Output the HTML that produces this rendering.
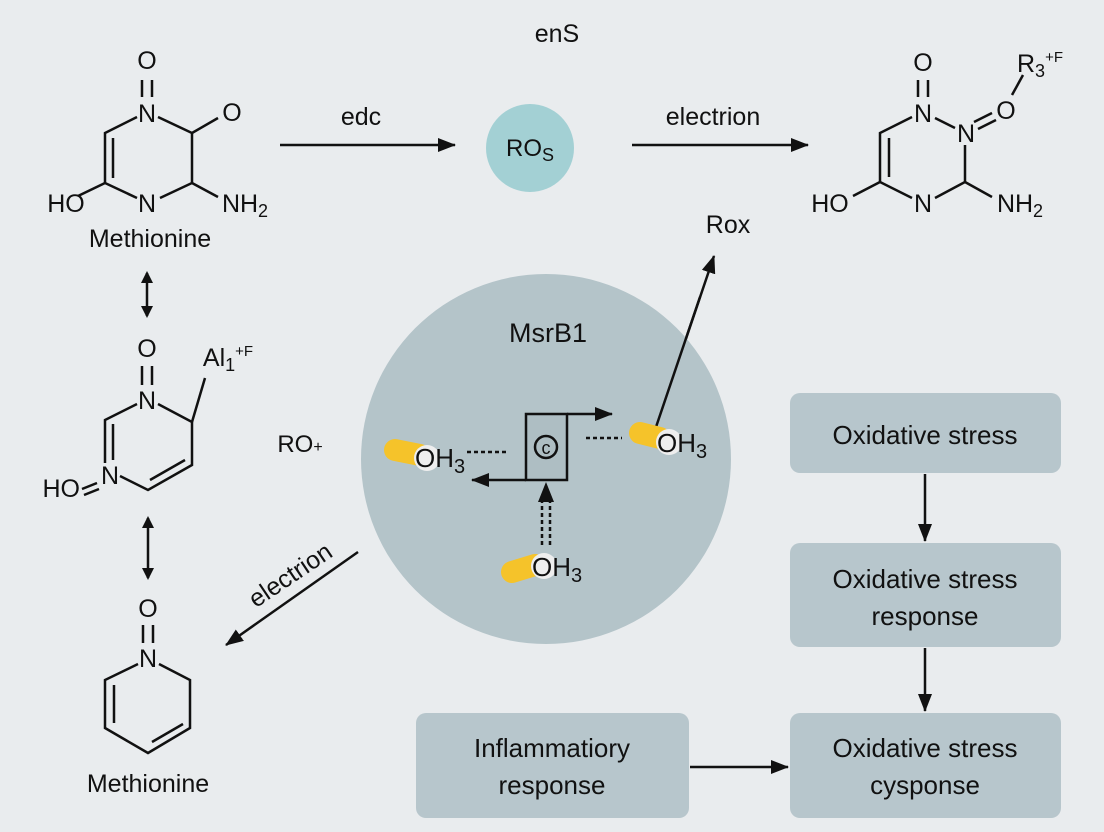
<!DOCTYPE html>
<html><head><meta charset="utf-8"><style>
html,body{margin:0;padding:0;background:#e9ecee}
svg{display:block}
text{font-family:"Liberation Sans",sans-serif;fill:#111}
</style></head><body>
<svg width="1104" height="832" viewBox="0 0 1104 832" xmlns="http://www.w3.org/2000/svg">
<defs>
<marker id="ah" markerWidth="12" markerHeight="12" refX="10" refY="6" orient="auto-start-reverse" markerUnits="userSpaceOnUse"><path d="M0,0 L12,6 L0,12 z" fill="#111"/></marker>
<marker id="ah2" markerWidth="18" markerHeight="14" refX="17" refY="7" orient="auto" markerUnits="userSpaceOnUse"><path d="M0,0 L18,7 L0,14 z" fill="#111"/></marker>
</defs>
<rect width="1104" height="832" fill="#e9ecee"/>
<g stroke="#111" stroke-width="2.5" fill="none">
<line x1="142" y1="80" x2="142" y2="97"/><line x1="152" y1="80" x2="152" y2="97"/>
<path d="M137,117 L105,133 L105,183 L137,198"/><line x1="113" y1="138" x2="113" y2="178"/>
<path d="M158,117 L192,133 L192,183 L160,198"/><line x1="192" y1="133" x2="218" y2="118"/>
<line x1="105" y1="183" x2="78" y2="196"/><line x1="192" y1="183" x2="218" y2="197"/>
<line x1="147" y1="273" x2="147" y2="316" marker-start="url(#ah)" marker-end="url(#ah)"/>
<line x1="148" y1="518" x2="148" y2="578" marker-start="url(#ah)" marker-end="url(#ah)"/>
<line x1="142" y1="366" x2="142" y2="385"/><line x1="152" y1="366" x2="152" y2="385"/>
<path d="M137,404 L105,420 L105,463"/><line x1="113" y1="424" x2="113" y2="460"/>
<path d="M158,404 L192,422 L192,465 L148,490 L120,476"/><line x1="150" y1="480" x2="185" y2="460"/>
<line x1="192" y1="422" x2="205" y2="378"/>
<line x1="82" y1="489" x2="97" y2="483"/><line x1="84" y1="495" x2="99" y2="489"/>
<line x1="143" y1="625" x2="143" y2="643"/><line x1="153" y1="625" x2="153" y2="643"/>
<path d="M138,664 L105,680 L105,728 L148,753 L190,728 L190,680 L159,664"/>
<line x1="114" y1="685" x2="114" y2="723"/><line x1="152" y1="742" x2="183" y2="724"/>
<line x1="918" y1="80" x2="918" y2="97"/><line x1="928" y1="80" x2="928" y2="97"/>
<path d="M912,117 L880,133 L880,182 L912,198"/><line x1="889" y1="138" x2="889" y2="177"/>
<line x1="935" y1="118" x2="955" y2="128"/>
<path d="M965,145 L965,182 L935,198"/><line x1="965" y1="182" x2="992" y2="197"/>
<line x1="880" y1="182" x2="853" y2="196"/>
<line x1="974" y1="122" x2="992" y2="113"/><line x1="978" y1="129" x2="996" y2="120"/>
<line x1="1012" y1="95" x2="1023" y2="75"/>
</g>
<g font-size="25" text-anchor="middle">
<text x="147" y="69">O</text><text x="147" y="122">N</text><text x="232" y="121">O</text>
<text x="66" y="212">HO</text><text x="147" y="212">N</text><text x="245" y="212">NH<tspan font-size="18" dy="5">2</tspan></text>
<text x="150" y="247">Methionine</text>
<text x="147" y="357">O</text><text x="147" y="409">N</text>
<text x="228" y="366">Al<tspan font-size="18" dy="5">1</tspan><tspan font-size="15" dy="-15">+F</tspan></text>
<text x="80" y="497" text-anchor="end">HO</text><text x="110" y="484">N</text>
<text x="148" y="617">O</text><text x="148" y="667">N</text>
<text x="148" y="792">Methionine</text>
<text x="923" y="71">O</text><text x="923" y="122">N</text><text x="966" y="142">N</text><text x="1006" y="119">O</text>
<text x="1040" y="72">R<tspan font-size="18" dy="5">3</tspan><tspan font-size="15" dy="-15">+F</tspan></text>
<text x="830" y="212">HO</text><text x="923" y="212">N</text><text x="1020" y="212">NH<tspan font-size="18" dy="5">2</tspan></text>
</g>
<g stroke="#111" stroke-width="2.5" fill="none">
<line x1="280" y1="145" x2="455" y2="145" marker-end="url(#ah2)"/>
<line x1="632" y1="145" x2="808" y2="145" marker-end="url(#ah2)"/>
<line x1="655" y1="430" x2="714" y2="256" marker-end="url(#ah2)"/>
<line x1="358" y1="552" x2="226" y2="645" marker-end="url(#ah2)"/>
</g>
<text x="557" y="42" font-size="25" text-anchor="middle">enS</text>
<text x="361" y="125" font-size="25" text-anchor="middle">edc</text>
<text x="713" y="125" font-size="25" text-anchor="middle">electrion</text>
<text x="728" y="233" font-size="25" text-anchor="middle">Rox</text>
<text x="300" y="452" font-size="24" text-anchor="middle">RO<tspan font-size="16">+</tspan></text>
<text x="295" y="582" font-size="25" text-anchor="middle" transform="rotate(-34 295 582)">electrion</text>
<circle cx="530" cy="148" r="44" fill="#a3d0d4"/>
<text x="530" y="156" font-size="24" text-anchor="middle">RO<tspan font-size="18" dy="5">S</tspan></text>
<circle cx="546" cy="459" r="185" fill="#b4c4c9"/>
<line x1="655" y1="430" x2="700" y2="297" stroke="#111" stroke-width="2.5"/>
<text x="548" y="342" font-size="27" text-anchor="middle">MsrB1</text>
<g stroke="#111" stroke-width="2.5" fill="none">
<rect x="526" y="414" width="41" height="66" fill="#aebec3"/>
<circle cx="546" cy="447" r="11"/>
<line x1="567" y1="414" x2="612" y2="414" marker-end="url(#ah2)"/>
<line x1="526" y1="480" x2="472" y2="480" marker-end="url(#ah2)"/>
<line x1="542" y1="545" x2="542" y2="500" stroke-dasharray="4 3"/><line x1="550" y1="545" x2="550" y2="500" stroke-dasharray="4 3"/>
<line x1="467" y1="452" x2="508" y2="452" stroke-dasharray="4 3"/>
<line x1="586" y1="438" x2="622" y2="438" stroke-dasharray="4 3"/>
</g>
<path d="M538,502 L554,502 L546,482 z" fill="#111"/>
<text x="546" y="454" font-size="18" text-anchor="middle">c</text>
<g stroke="#f5c32a" stroke-width="22" stroke-linecap="round">
<line x1="395" y1="450" x2="420" y2="455"/><line x1="640" y1="433" x2="660" y2="438"/><line x1="512" y1="572" x2="535" y2="565"/>
</g>
<g fill="#eeeeee"><circle cx="427" cy="458" r="13"/><circle cx="669" cy="442" r="13"/><circle cx="544" cy="566" r="13"/></g>
<g font-size="26"><text x="415" y="467">OH<tspan font-size="20" dy="6">3</tspan></text>
<text x="657" y="452">OH<tspan font-size="20" dy="6">3</tspan></text>
<text x="532" y="576">OH<tspan font-size="20" dy="6">3</tspan></text></g>
<g fill="#b7c6cc">
<rect x="790" y="393" width="271" height="80" rx="10"/>
<rect x="790" y="543" width="271" height="104" rx="10"/>
<rect x="790" y="713" width="271" height="105" rx="10"/>
<rect x="416" y="713" width="273" height="105" rx="10"/>
</g>
<g font-size="26" text-anchor="middle">
<text x="925" y="444">Oxidative stress</text>
<text x="925" y="588">Oxidative stress</text><text x="925" y="625">response</text>
<text x="925" y="757">Oxidative stress</text><text x="925" y="794">cysponse</text>
<text x="552" y="757">Inflammatiory</text><text x="552" y="794">response</text>
</g>
<g stroke="#111" stroke-width="2.5">
<line x1="925" y1="474" x2="925" y2="541" marker-end="url(#ah2)"/>
<line x1="925" y1="648" x2="925" y2="711" marker-end="url(#ah2)"/>
<line x1="690" y1="767" x2="788" y2="767" marker-end="url(#ah2)"/>
</g>
</svg>
</body></html>
